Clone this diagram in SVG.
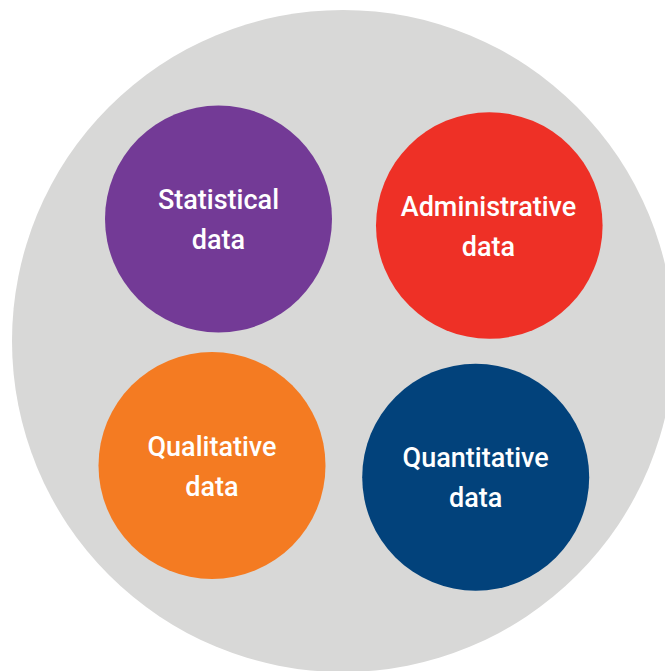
<svg xmlns="http://www.w3.org/2000/svg" width="665" height="671" viewBox="0 0 665 671">
<style>
.bg{fill:#d8d8d7}
.lbl{font-family:Roboto,"Liberation Sans",Arial,sans-serif;font-size:27px;font-weight:500;fill:#ffffff;text-anchor:middle}
</style>
<rect width="665" height="671" fill="#ffffff"/>
<g id="container">
<circle class="bg" cx="343" cy="341" r="331"/>
</g>
<g id="connectors"></g>
<g id="statistical">
<circle cx="218.5" cy="219" r="113.5" fill="#733a96"/>
<text class="lbl" x="218.5" y="209">Statistical</text>
<text class="lbl" x="218.5" y="249">data</text>
</g>
<g id="administrative">
<circle cx="489.3" cy="225.5" r="113.3" fill="#ee3026"/>
<text class="lbl" x="488.5" y="216">Administrative</text>
<text class="lbl" x="488.5" y="256">data</text>
</g>
<g id="qualitative">
<circle cx="212" cy="465.5" r="113.5" fill="#f47b22"/>
<text class="lbl" x="212" y="456">Qualitative</text>
<text class="lbl" x="212" y="496">data</text>
</g>
<g id="quantitative">
<circle cx="475.7" cy="477.2" r="113.5" fill="#02427b"/>
<text class="lbl" x="475.7" y="467">Quantitative</text>
<text class="lbl" x="475.7" y="507">data</text>
</g>
</svg>
